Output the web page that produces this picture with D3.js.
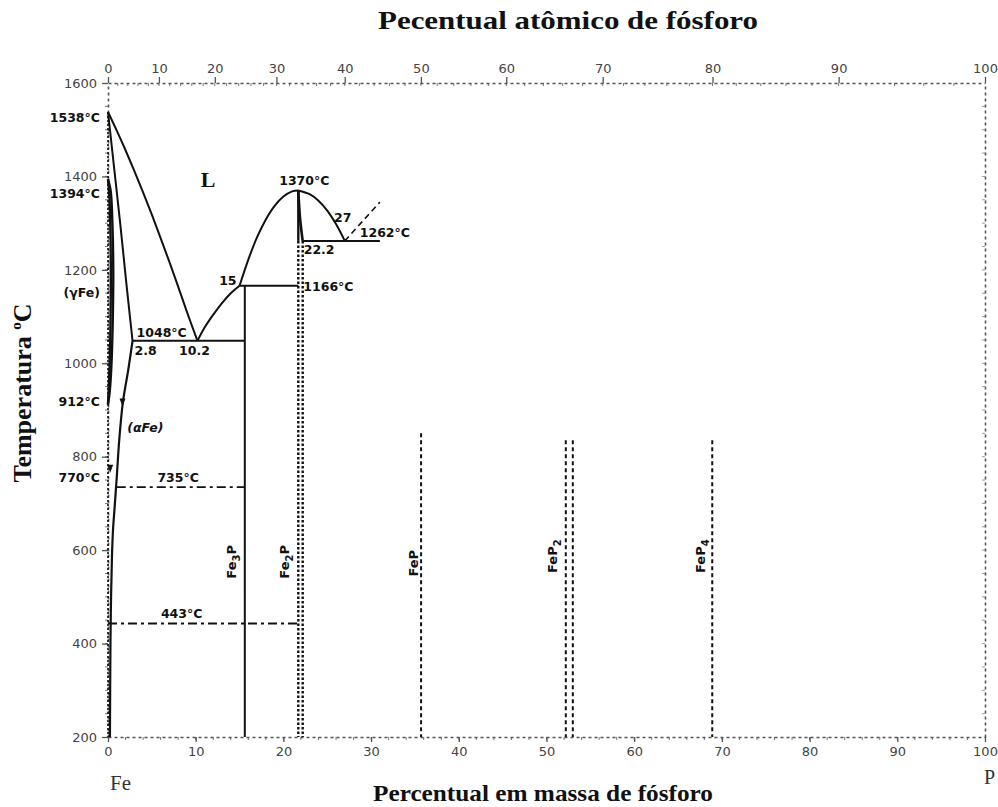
<!DOCTYPE html>
<html><head><meta charset="utf-8">
<script src="https://cdn.jsdelivr.net/npm/d3@7"></script>
<style>
body{margin:0;background:#fff}
svg{display:block}
</style></head><body>
<svg id="chart" width="998" height="807"></svg>
<script>
// Fe–P equilibrium phase diagram (temperature vs. phosphorus content)

const wtTicks = [0, 10, 20, 30, 40, 50, 60, 70, 80, 90, 100];
const atTicks = [0, 10, 20, 30, 40, 50, 60, 70, 80, 90, 100];
const tempTicks = [200, 400, 600, 800, 1000, 1200, 1400, 1600];

// atomic masses used for the atomic-% axis
const MASS_FE = 55.845, MASS_P = 30.974;

// phase boundaries as [wt% P, °C]
const liquidusFe = [[0,1538],[1,1498],[2,1456],[3,1412],[4,1366],[5,1318],[6,1268],[7,1217],[8,1164],[9,1110],[10.2,1048]];
const solidusAlpha = [[0,1538],[0.7,1418],[1.4,1298],[2.1,1170],[2.8,1048]];
const solvusAlpha = [[2.8,1048],[2.3,985],[1.7,917],[1.3,840],[1.0,757],[0.75,690],[0.57,643],[0.45,585],[0.35,500],[0.28,400],[0.22,200]];
const gammaOuter = [[0,1394],[0.3,1370],[0.5,1300],[0.6,1200],[0.55,1100],[0.4,1000],[0.2,940],[0,912]];
const gammaInner = [[0,1394],[0.15,1360],[0.28,1280],[0.32,1180],[0.28,1080],[0.18,990],[0,912]];
const liquidusFe3P = [[10.2,1048],[11,1076],[12,1104],[13,1129],[14,1150],[15,1166]];
const liquidusFe2PLeft = [[15,1166],[16,1222],[17,1270],[18,1308],[19,1337],[20,1357],[21,1368],[21.7,1370]];
const liquidusFe2PRight = [[21.7,1370],[23,1362],[24,1348],[25,1327],[26,1298],[27,1262]];
const solidusFe2P = [[21.7,1370],[21.9,1310],[22.2,1262]];
const liquidusUncertain = [[27,1262],[31,1345]];

// invariant isotherms
const isotherms = [
  {t: 1048, from: 2.8, to: 15.6},
  {t: 1166, from: 15, to: 21.7},
  {t: 1262, from: 22.2, to: 31}
];
// magnetic transitions (dash-dot)
const magnetic = [
  {t: 735, from: 1.0, to: 15.6},
  {t: 443, from: 0, to: 22.0}
];
// line compounds
const fe3P = {w: 15.6, top: 1166};
const fe2PLines = [{w: 21.7, top: 1262}, {w: 22.2, top: 1262}];
const dashedCompounds = [
  {w: 35.7, top: 850},
  {w: 52.2, top: 835},
  {w: 53.0, top: 835},
  {w: 68.9, top: 835}
];

const svg = d3.select("#chart");
const x = d3.scaleLinear().domain([0, 100]).range([108, 985]);
const y = d3.scaleLinear().domain([200, 1600]).range([737, 83]);

// atomic % -> weight % P
const atToWt = a => 100 * a * MASS_P / (a * MASS_P + (100 - a) * MASS_FE);
const atGrid = d3.range(0, 101, 1);
const xAt = d3.scaleLinear().domain(atGrid).range(atGrid.map(a => x(atToWt(a))));

const tickFont = "DejaVu Sans, sans-serif";
const serif = "Liberation Serif, Times New Roman, serif";
const fmt = d3.format("d");

// ---- frame / axes ----
function styleAxis(g) {
  g.select(".domain").attr("stroke", "#555").attr("stroke-width", 1.6).attr("stroke-dasharray", "3,3");
  g.selectAll(".tick line").attr("stroke", "#555").attr("stroke-width", 1.3);
  g.selectAll(".tick text").attr("font-family", tickFont).attr("font-size", 13).attr("fill", "#444");
}

// minor ticks
svg.append("g").selectAll("line").data(d3.range(2, 100, 2)).join("line")
  .attr("x1", d => x(d)).attr("x2", d => x(d)).attr("y1", y(200)).attr("y2", y(200) + 3)
  .attr("stroke", "#777").attr("stroke-width", 1);
svg.append("g").selectAll("line").data(d3.range(2, 100, 2)).join("line")
  .attr("x1", d => xAt(d)).attr("x2", d => xAt(d)).attr("y1", y(1600)).attr("y2", y(1600) + 3)
  .attr("stroke", "#777").attr("stroke-width", 1);
svg.append("g").selectAll("line").data(d3.range(250, 1600, 50)).join("line")
  .attr("x1", x(0) - 3).attr("x2", x(0)).attr("y1", d => y(d)).attr("y2", d => y(d))
  .attr("stroke", "#777").attr("stroke-width", 1);
svg.append("g").selectAll("line").data(d3.range(250, 1600, 50)).join("line")
  .attr("x1", x(100) - 3).attr("x2", x(100)).attr("y1", d => y(d)).attr("y2", d => y(d))
  .attr("stroke", "#999").attr("stroke-width", 1);

svg.append("g").attr("transform", `translate(0,${y(200)})`)
  .call(d3.axisBottom(x).tickValues(wtTicks).tickFormat(fmt).tickSize(5).tickSizeOuter(0).tickPadding(5))
  .call(styleAxis);
svg.append("g").attr("transform", `translate(0,${y(1600)})`)
  .call(d3.axisTop(xAt).tickValues(atTicks).tickFormat(fmt).tickSize(6).tickSizeOuter(0).tickPadding(4))
  .call(styleAxis);
svg.append("g").attr("transform", `translate(${x(0)},0)`)
  .call(d3.axisLeft(y).tickValues(tempTicks).tickFormat(fmt).tickSize(6).tickSizeOuter(0).tickPadding(5))
  .call(styleAxis);
svg.append("g").attr("transform", `translate(${x(100)},0)`)
  .call(d3.axisRight(y).tickValues([]).tickSizeOuter(0))
  .call(styleAxis);

// ---- phase boundaries ----
const lineX = d3.line().x(d => x(d[0])).y(d => y(d[1])).curve(d3.curveCatmullRom);
const ink = "#111";

const curves = svg.append("g").attr("fill", "none").attr("stroke", ink).attr("stroke-width", 2);
curves.append("path").attr("d", lineX(liquidusFe));
curves.append("path").attr("d", lineX(solidusAlpha));
curves.append("path").attr("d", lineX(solvusAlpha)).attr("stroke-width", 2.2);
curves.append("path").attr("d", lineX(gammaOuter)).attr("stroke-width", 2.4);
curves.append("path").attr("d", lineX(gammaInner)).attr("stroke-width", 2.4);
curves.append("path").attr("d", lineX(liquidusFe3P));
curves.append("path").attr("d", lineX(liquidusFe2PLeft));
curves.append("path").attr("d", lineX(liquidusFe2PRight));
curves.append("path").attr("d", lineX(solidusFe2P)).attr("stroke-width", 2.6);
curves.append("path").attr("d", lineX(liquidusUncertain)).attr("stroke-dasharray", "6,4").attr("stroke-width", 1.6);

// pure-iron edge
curves.append("line").attr("x1", x(0)).attr("x2", x(0)).attr("y1", y(1538)).attr("y2", y(200))
  .attr("stroke-width", 1.6).attr("stroke-dasharray", "2,2");

// isotherms
curves.selectAll(".iso").data(isotherms).join("line").attr("class", "iso")
  .attr("x1", d => x(d.from)).attr("x2", d => x(d.to))
  .attr("y1", d => y(d.t)).attr("y2", d => y(d.t)).attr("stroke-width", 2);

curves.selectAll(".mag").data(magnetic).join("line").attr("class", "mag")
  .attr("x1", d => x(d.from)).attr("x2", d => x(d.to))
  .attr("y1", d => y(d.t)).attr("y2", d => y(d.t))
  .attr("stroke-width", 1.8).attr("stroke-dasharray", "9,4,3,4");

// Fe3P (solid), Fe2P (solid from the congruent maximum, then dotted)
curves.append("line").attr("x1", x(fe3P.w)).attr("x2", x(fe3P.w))
  .attr("y1", y(fe3P.top)).attr("y2", y(200)).attr("stroke-width", 2);
curves.append("line").attr("x1", x(21.7)).attr("x2", x(21.7))
  .attr("y1", y(1370)).attr("y2", y(1262)).attr("stroke-width", 2.4);
curves.selectAll(".fe2p").data(fe2PLines).join("line").attr("class", "fe2p")
  .attr("x1", d => x(d.w)).attr("x2", d => x(d.w))
  .attr("y1", d => y(d.top)).attr("y2", y(200))
  .attr("stroke-width", 2.4).attr("stroke-dasharray", "2.5,2");

curves.selectAll(".cmp").data(dashedCompounds).join("line").attr("class", "cmp")
  .attr("x1", d => x(d.w)).attr("x2", d => x(d.w))
  .attr("y1", d => y(d.top)).attr("y2", y(200))
  .attr("stroke-width", 2).attr("stroke-dasharray", "4,3");

// small arrowheads marking the transformation points on the alpha boundary
const arrows = [{w: 1.65, t: 912}, {w: 0.25, t: 770}];
svg.append("g").selectAll("path").data(arrows).join("path")
  .attr("d", d => `M${x(d.w) - 3},${y(d.t) - 6} L${x(d.w) + 3},${y(d.t) - 6} L${x(d.w)},${y(d.t) + 2} Z`)
  .attr("fill", ink);

// ---- annotations: anchored at a data point, offset in pixels ----
const annotations = [
  {text: "1538°C", w: 0, t: 1538, dx: -8, dy: 10, anchor: "end"},
  {text: "1394°C", w: 0, t: 1394, dx: -8, dy: 19, anchor: "end"},
  {text: "(γFe)", w: 0, t: 1150, dx: -8, dy: 4, anchor: "end"},
  {text: "912°C", w: 0, t: 912, dx: -8, dy: 2, anchor: "end"},
  {text: "770°C", w: 0, t: 770, dx: -8, dy: 11, anchor: "end"},
  {text: "(αFe)", w: 2.2, t: 860, dx: 0, dy: 3, anchor: "start", italic: true},
  {text: "1048°C", w: 2.8, t: 1048, dx: 4, dy: -4, anchor: "start"},
  {text: "2.8", w: 2.8, t: 1048, dx: 2, dy: 14, anchor: "start"},
  {text: "10.2", w: 10.2, t: 1048, dx: -3, dy: 14, anchor: "middle"},
  {text: "15", w: 15, t: 1166, dx: -3, dy: -1, anchor: "end"},
  {text: "1166°C", w: 21.7, t: 1166, dx: 5, dy: 5, anchor: "start"},
  {text: "1370°C", w: 21.7, t: 1370, dx: 6, dy: -5, anchor: "middle"},
  {text: "27", w: 27, t: 1262, dx: -2, dy: -19, anchor: "middle"},
  {text: "1262°C", w: 27, t: 1262, dx: 15, dy: -4, anchor: "start"},
  {text: "22.2", w: 22.2, t: 1262, dx: 1, dy: 13, anchor: "start"},
  {text: "735°C", w: 8, t: 735, dx: 0, dy: -5, anchor: "middle"},
  {text: "443°C", w: 8.4, t: 443, dx: 0, dy: -5, anchor: "middle"}
];
svg.append("g").selectAll("text").data(annotations).join("text")
  .attr("x", d => x(d.w) + d.dx).attr("y", d => y(d.t) + d.dy)
  .attr("text-anchor", d => d.anchor)
  .attr("font-family", tickFont).attr("font-size", 12.5).attr("font-weight", "bold")
  .attr("font-style", d => d.italic ? "italic" : "normal")
  .attr("fill", ink).text(d => d.text);

// compound names, rotated along their lines
const compoundLabels = [
  {base: "Fe", sub: "3", tail: "P", w: 15.6, t: 575, dx: -9},
  {base: "Fe", sub: "2", tail: "P", w: 21.7, t: 575, dx: -9},
  {base: "FeP", sub: "", tail: "", w: 35.7, t: 572, dx: -3},
  {base: "FeP", sub: "2", tail: "", w: 52.2, t: 587, dx: -9},
  {base: "FeP", sub: "4", tail: "", w: 68.9, t: 587, dx: -7}
];
const cl = svg.append("g").selectAll("text").data(compoundLabels).join("text")
  .attr("transform", d => `translate(${x(d.w) + d.dx},${y(d.t)}) rotate(-90)`)
  .attr("text-anchor", "middle")
  .attr("font-family", tickFont).attr("font-size", 13).attr("font-weight", "bold").attr("fill", ink);
cl.append("tspan").text(d => d.base);
cl.append("tspan").attr("font-size", 10).attr("dy", 4).text(d => d.sub);
cl.append("tspan").attr("dy", -4).text(d => d.tail);

// liquid field
svg.append("text").attr("x", x(11.4)).attr("y", y(1377)).attr("text-anchor", "middle")
  .attr("font-family", serif).attr("font-size", 22).attr("font-weight", "bold").attr("fill", ink).text("L");

// component names
svg.append("text").attr("x", x(0) + 2).attr("y", 790)
  .attr("font-family", serif).attr("font-size", 21).attr("fill", "#333").text("Fe");
svg.append("text").attr("x", 995).attr("y", 784).attr("text-anchor", "end")
  .attr("font-family", serif).attr("font-size", 20).attr("fill", "#333").text("P");

// axis titles
svg.append("text").attr("x", 568).attr("y", 29).attr("text-anchor", "middle")
  .attr("font-family", serif).attr("font-size", 25).attr("font-weight", "bold").attr("fill", ink)
  .attr("textLength", 380).attr("lengthAdjust", "spacingAndGlyphs")
  .text("Pecentual atômico de fósforo");
svg.append("text").attr("x", 543).attr("y", 801).attr("text-anchor", "middle")
  .attr("font-family", serif).attr("font-size", 24).attr("font-weight", "bold").attr("fill", ink)
  .attr("textLength", 340).attr("lengthAdjust", "spacingAndGlyphs")
  .text("Percentual em massa de fósforo");
const yt = svg.append("text").attr("transform", "translate(31,393) rotate(-90)").attr("text-anchor", "middle")
  .attr("font-family", serif).attr("font-size", 26).attr("font-weight", "bold").attr("fill", ink);
yt.append("tspan").text("Temperatura ");
yt.append("tspan").attr("font-size", 15).attr("dy", -10).text("o");
yt.append("tspan").attr("dy", 10).text("C");
</script>
</body></html>
